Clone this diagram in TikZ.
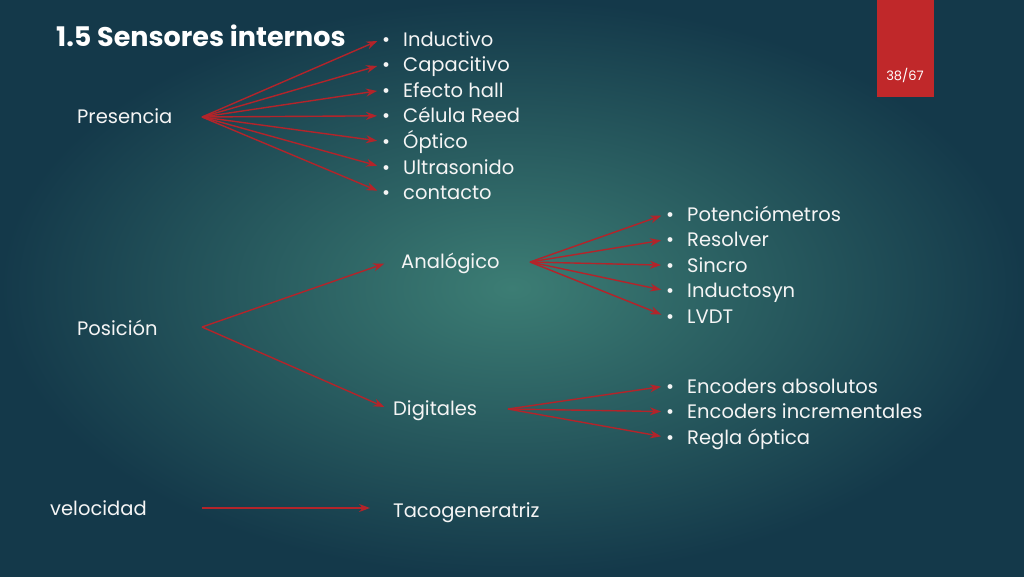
\documentclass[tikz,border=0pt]{standalone}
\usepackage{fontspec}
\setmainfont{Poppins}
\usetikzlibrary{arrows.meta}
\definecolor{bgc}{HTML}{3C7D74}
\definecolor{bge}{HTML}{14394A}
\definecolor{arr}{HTML}{B3242A}
\definecolor{tab}{HTML}{C0282A}
\begin{document}
\begin{tikzpicture}[x=1pt,y=-1pt,
  lbl/.style={anchor=base west,text=white!92!gray,font=\fontsize{19.5}{19.5}\selectfont,inner sep=0pt},
  itm/.style={anchor=base west,text=white!92!gray,font=\fontsize{19.5}{19.5}\selectfont,inner sep=0pt},
  con/.style={draw=arr,line width=1.4pt,shorten >=5pt,-{Stealth[length=11pt,width=8pt]}}]
\useasboundingbox (0,0) rectangle (1024,576);
\shade[inner color=bgc,outer color=bge] (0,0) rectangle (1024,576);
\fill[tab] (877,0) rectangle (934,97);
\node[text=white,font=\fontsize{13}{13}\selectfont] (pg) at (905,75) {38/67};
\node[anchor=base west,inner sep=0pt,text=white,font=\fontsize{27}{27}\selectfont\bfseries] (title) at (56,46) {1.5 Sensores internos};
\node[lbl] (pres) at (77,123) {Presencia};
\node[lbl] (pos) at (77,335) {Posición};
\node[lbl] (vel) at (50,515) {velocidad};
\node[lbl] (ana) at (401,268) {Analógico};
\node[lbl] (dig) at (393,415) {Digitales};
\node[lbl] (taco) at (393,517) {Tacogeneratriz};
\coordinate (p0) at (202,117);
\foreach \t [count=\i from 0] in {Inductivo,Capacitivo,Efecto hall,Célula Reed,Óptico,Ultrasonido,contacto}{
  \node[itm] (a\i) at (382,{46+25.6*\i}) {•\hspace{13pt}\t};
  \draw[con] (p0) -- ([yshift=7pt]a\i.base west);
}
\coordinate (q0) at (530,262);
\foreach \t [count=\i from 0] in {Potenciómetros,Resolver,Sincro,Inductosyn,LVDT}{
  \node[itm] (b\i) at (666,{221+25.6*\i}) {•\hspace{13pt}\t};
  \draw[con] (q0) -- ([yshift=7pt]b\i.base west);
}
\coordinate (r0) at (508,409);
\foreach \t [count=\i from 0] in {Encoders absolutos,Encoders incrementales,Regla óptica}{
  \node[itm] (c\i) at (666,{393+25.6*\i}) {•\hspace{13pt}\t};
  \draw[con] (r0) -- ([yshift=7pt]c\i.base west);
}
\coordinate (s0) at (202,327);
\draw[con] (s0) -- ([xshift=-12pt,yshift=6pt]ana.base west);
\draw[con] (s0) -- ([xshift=-4pt,yshift=6pt]dig.base west);
\coordinate (v0) at (202,508);
\draw[con] (v0) -- ([xshift=-18pt,yshift=9pt]taco.base west);
\end{tikzpicture}
\end{document}
